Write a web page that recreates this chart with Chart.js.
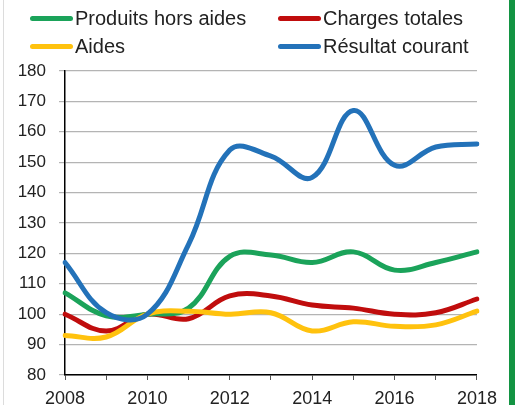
<!DOCTYPE html>
<html>
<head>
<meta charset="utf-8">
<script src="https://cdn.jsdelivr.net/npm/chart.js@4/dist/chart.umd.min.js"></script>
<style>
	html, body { margin: 0; padding: 0; background: #fff; }
	#wrap { position: relative; width: 516px; height: 405px; overflow: hidden; background: #fff; }
	#wrap canvas { position: absolute; left: 0; top: 0; }
	#edge { position: absolute; left: 3px; top: 0; width: 1px; height: 405px; background: #dcdcdc; }
	#green { position: absolute; left: 509px; top: 0; width: 6px; height: 405px; background: #139443; }
	#legend { position: absolute; left: 0; top: 0; width: 505px; height: 62px;
		font-family: "Liberation Sans", Arial, sans-serif; font-size: 20px; color: #222; }
	.item { position: absolute; height: 24px; line-height: 24px; white-space: nowrap; }
	.item span.mark { position: absolute; left: 0; top: 10px; width: 43px; height: 5px; border-radius: 3px; }
	.item span.txt { position: absolute; left: 45px; top: 0; }
</style>
</head>
<body>
<div id="wrap">
	<canvas id="myChart" width="505" height="405"></canvas>
	<div id="legend"></div>
	<div id="edge"></div>
	<div id="green"></div>
</div>
<script>
// data (index 2010 = 100)
const years = ["2008", "2009", "2010", "2011", "2012", "2013", "2014", "2015", "2016", "2017", "2018"]
const produits = [107, 99.5, 100, 102, 119, 119.5, 117, 120.5, 114.5, 117, 120.5]
const charges = [100, 94.5, 100, 98.5, 106, 106, 103, 102, 100, 100.5, 105]
const aides = [93, 92.5, 100, 101, 100, 100.5, 94.5, 97.5, 96, 96.5, 101]
const resultat = [117, 100.5, 100, 123, 154, 152, 145, 167, 149, 155, 156]
const yTicks = [80, 90, 100, 110, 120, 130, 140, 150, 160, 170, 180]

const colors = {
	produits: "#1ba35a",
	charges: "#c00d0d",
	aides: "#ffc20e",
	resultat: "#2372b9",
}

const font = "'Liberation Sans', Arial, sans-serif"

const ctx = document.querySelector("#myChart").getContext("2d")

const myChart = new Chart(ctx, {
	type: "line",
	data: {
		labels: years,
		datasets: [
			{ label: "Produits hors aides", data: produits, borderColor: colors.produits, order: 2 },
			{ label: "Charges totales", data: charges, borderColor: colors.charges, order: 3 },
			{ label: "Aides", data: aides, borderColor: colors.aides, order: 1 },
			{ label: "Résultat courant", data: resultat, borderColor: colors.resultat, order: 0 },
		],
	},
	options: {
		responsive: false,
		animation: false,
		events: [],
		datasets: {
			line: {
				borderWidth: 5,
				tension: 0.4,
				pointRadius: 0,
				fill: false,
				borderCapStyle: "round",
				borderJoinStyle: "round",
			},
		},
		layout: { padding: { top: 71, right: 24, left: 0, bottom: 0 } },
		plugins: {
			legend: { display: false },
			tooltip: { enabled: false },
		},
		scales: {
			x: {
				type: "category",
				offset: false,
				grid: { drawOnChartArea: false, drawTicks: true, tickLength: 5, color: "#555" },
				border: { color: "#000", width: 1.5 },
				ticks: {
					autoSkip: false,
					maxRotation: 0,
					padding: 8,
					color: "#222",
					font: { family: font, size: 18 },
					callback: (v, i) => (i % 2 === 0 ? years[i] : ""),
				},
				afterFit: scale => { scale.height = 30 },
			},
			y: {
				min: 80,
				max: 180,
				afterBuildTicks: scale => { scale.ticks = yTicks.map(v => ({ value: v })) },
				grid: { color: "#b4b4b4", lineWidth: 1.2, tickLength: 6, drawTicks: true },
				border: { color: "#000", width: 1.5 },
				ticks: {
					padding: 13,
					color: "#222",
					font: { family: font, size: 17 },
				},
				afterFit: scale => { scale.width = 65 },
			},
		},
	},
})

// legend in two columns like the original
const legendPos = [
	{ left: 30, top: 6 },
	{ left: 278, top: 6 },
	{ left: 30, top: 34 },
	{ left: 278, top: 34 },
]
const legend = document.querySelector("#legend")
myChart.data.datasets.forEach((ds, i) => {
	const item = document.createElement("div")
	item.className = "item"
	item.style.left = legendPos[i].left + "px"
	item.style.top = legendPos[i].top + "px"
	const mark = document.createElement("span")
	mark.className = "mark"
	mark.style.background = ds.borderColor
	const txt = document.createElement("span")
	txt.className = "txt"
	txt.textContent = ds.label
	item.appendChild(mark)
	item.appendChild(txt)
	legend.appendChild(item)
})
</script>
</body>
</html>
